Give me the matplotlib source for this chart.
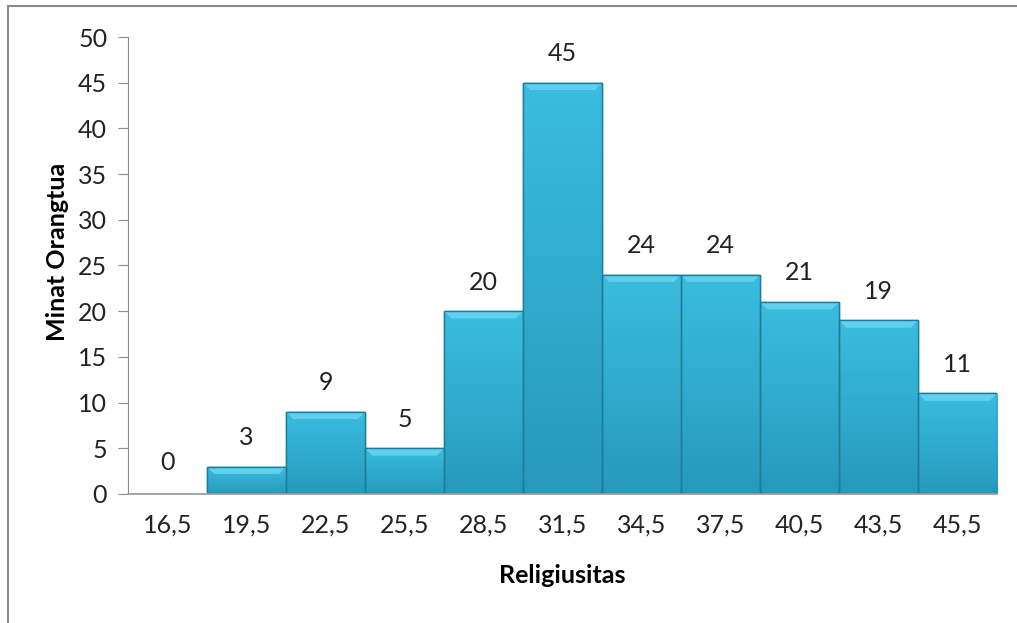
import numpy as np
import matplotlib.pyplot as plt
from matplotlib.patches import Polygon, Rectangle
from matplotlib.colors import LinearSegmentedColormap

plt.rcParams["font.family"] = ["Lato", "DejaVu Sans"]

classes = ['16,5', '19,5', '22,5', '25,5', '28,5', '31,5',
           '34,5', '37,5', '40,5', '43,5', '45,5']
freq = [0, 3, 9, 5, 20, 45, 24, 24, 21, 19, 11]

fig = plt.figure(figsize=(10.17, 6.23), dpi=100)
ax = fig.add_axes([0.1259, 0.2071, 0.8545, 0.7335])

x = np.arange(len(classes))
bars = ax.bar(x, freq, width=1.0, color='#31abcf', edgecolor='#1d7d98',
              linewidth=1.0, zorder=2)

# vertical shading on each bar plus a bevelled top edge
shade = LinearSegmentedColormap.from_list('shade', ['#2699bd', '#3abde0'])
grad = np.linspace(0, 1, 256).reshape(-1, 1)
for b, h in zip(bars, freq):
    if h <= 0:
        continue
    x0, w = b.get_x(), b.get_width()
    im = ax.imshow(grad, cmap=shade, aspect='auto', origin='lower',
                   extent=(x0, x0 + w, 0, h), zorder=2.1)
    im.set_clip_path(b)
    bev_x, bev_y = 0.09, 0.8
    top = Polygon([(x0, h), (x0 + w, h), (x0 + w - bev_x, h - bev_y),
                   (x0 + bev_x, h - bev_y)], closed=True,
                  facecolor='#5fd1ee', edgecolor='none', zorder=2.2)
    ax.add_patch(top)
    ax.add_patch(Rectangle((x0, 0), w, h, facecolor='none',
                           edgecolor='#1d7d98', linewidth=1.0, zorder=2.3))
    ax.annotate(str(h), (x0 + w / 2, h), xytext=(0, 21),
                textcoords='offset points', ha='center', va='center',
                fontsize=18, color='#222222')

# the empty first class still gets its label
ax.annotate('0', (0, 0), xytext=(0, 23), textcoords='offset points',
            ha='center', va='center', fontsize=18, color='#222222')

ax.set_xlim(-0.5, len(classes) - 0.5)
ax.set_ylim(0, 50)
ax.set_yticks(np.arange(0, 51, 5))
ax.set_xticks(x)
ax.set_xticklabels(classes)

for side in ['top', 'right']:
    ax.spines[side].set_visible(False)
ax.spines['left'].set_color('#8c8c8c')
ax.spines['bottom'].set_color('#9a9a9a')
ax.spines['bottom'].set_linewidth(1.2)
ax.tick_params(axis='y', direction='out', length=7, color='#8c8c8c',
               labelsize=18, labelcolor='#222222', pad=8)
ax.tick_params(axis='x', length=0, labelsize=18, labelcolor='#222222', pad=14)

ax.set_xlabel('Religiusitas', fontsize=18, fontweight='bold', labelpad=20)
ax.set_ylabel('Minat Orangtua', fontsize=18, fontweight='bold', labelpad=8)
ax.yaxis.set_label_coords(-0.068, 0.53)

# chart-area border
fig.add_artist(plt.Line2D([8 / 1017, 8 / 1017], [0, 1 - 6 / 623],
                          transform=fig.transFigure, color='#8a8a8a', lw=1.5))
fig.add_artist(plt.Line2D([8 / 1017, 1], [1 - 6 / 623, 1 - 6 / 623],
                          transform=fig.transFigure, color='#8a8a8a', lw=1.5))

fig.savefig('out.png', dpi=100)
